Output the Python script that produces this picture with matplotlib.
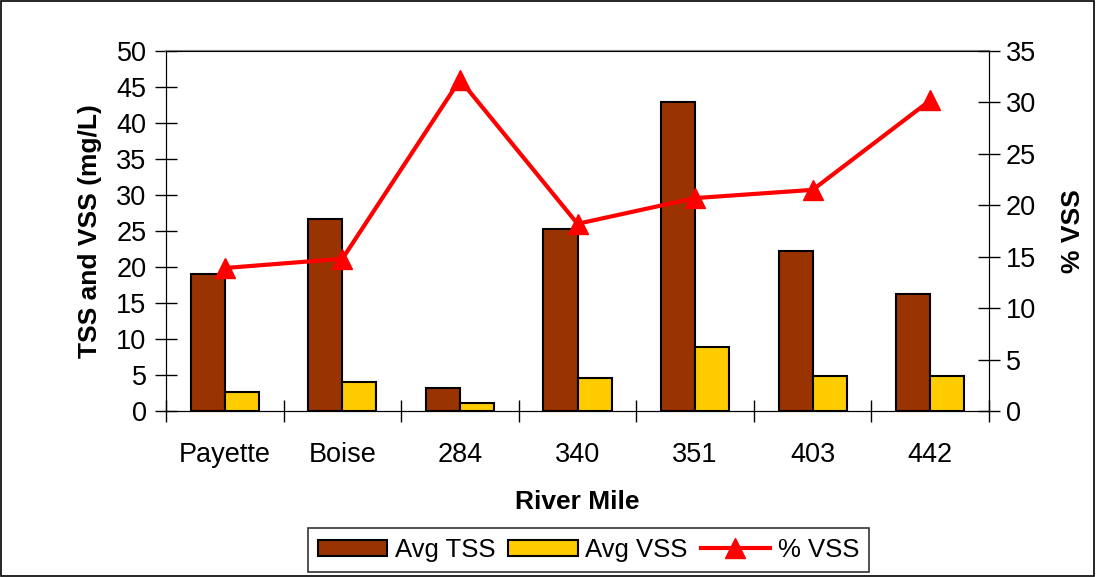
import numpy as np
import matplotlib.pyplot as plt
from matplotlib.patches import Rectangle

plt.rcParams['font.family'] = ['Liberation Sans', 'DejaVu Sans']

# Data
sites = ['Payette', 'Boise', '284', '340', '351', '403', '442']
avg_tss = [19.0, 26.7, 3.2, 25.3, 42.9, 22.2, 16.2]
avg_vss = [2.7, 4.0, 1.1, 4.6, 8.9, 4.8, 4.9]
pct_vss = [13.9, 14.8, 32.2, 18.2, 20.7, 21.5, 30.2]

fig = plt.figure(figsize=(10.96, 5.77), dpi=100)
fig.patches.append(Rectangle((0.001, 0.002), 0.997, 0.996, transform=fig.transFigure,
                             fill=False, edgecolor='black', linewidth=1.2))
ax = fig.add_axes([0.1515, 0.2877, 0.7509, 0.6239])

x = np.arange(len(sites))
w = 0.29
ax.bar(x - w / 2, avg_tss, w, color='#993300', edgecolor='black', linewidth=1.5, label='Avg TSS')
ax.bar(x + w / 2, avg_vss, w, color='#FFCC00', edgecolor='black', linewidth=1.5, label='Avg VSS')

ax.set_xlim(-0.5, len(sites) - 0.5)
ax.set_ylim(0, 50)
ax.set_yticks(np.arange(0, 51, 5))
ax.set_xticks(x)
ax.set_xticklabels(sites)
ax.set_xticks(np.arange(-0.5, len(sites), 1), minor=True)
ax.tick_params(axis='x', which='major', length=0, pad=22, labelsize=19.5)
ax.tick_params(axis='x', which='minor', length=16, width=1, direction='inout')
ax.tick_params(axis='y', length=16, width=1, direction='inout', labelsize=19.5, pad=6)
ax.spines['top'].set_color('#888888')
ax.spines['top'].set_linewidth(1.5)
ax.set_xlabel('River Mile', fontsize=19, fontweight='bold', labelpad=16)
ax.set_ylabel('TSS and VSS (mg/L)', fontsize=19, fontweight='bold', labelpad=10)

ax2 = ax.twinx()
ax2.plot(x, pct_vss, color='#FF0000', linewidth=3, marker='^', markersize=14, label='% VSS')
ax2.set_ylim(0, 35)
ax2.set_yticks(np.arange(0, 36, 5))
ax2.tick_params(axis='y', length=16, width=1, direction='inout', labelsize=19.5, pad=4)
ax2.set_ylabel('% VSS', fontsize=19, fontweight='bold', rotation=90, labelpad=18)

h1, l1 = ax.get_legend_handles_labels()
h2, l2 = ax2.get_legend_handles_labels()
leg = fig.legend(h1 + h2, l1 + l2, loc='lower center', bbox_to_anchor=(0.537, 0.008),
                 borderaxespad=0, ncol=3, fontsize=18.5, frameon=True, fancybox=False,
                 edgecolor='black', handlelength=2.7, handleheight=0.6, handletextpad=0.3,
                 columnspacing=0.5, borderpad=0.4)
leg.get_frame().set_linewidth(1.2)

fig.savefig('out.png', dpi=100)
